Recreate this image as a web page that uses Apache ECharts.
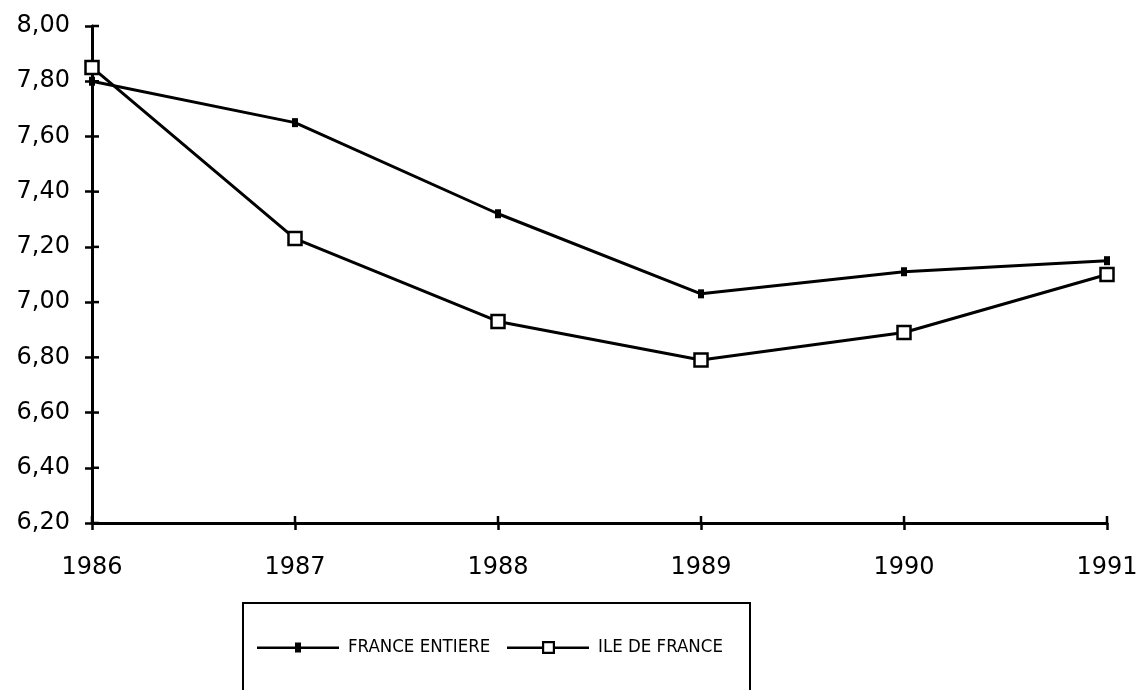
<!DOCTYPE html>
<html>
<head>
<meta charset="utf-8">
<script src="https://cdn.jsdelivr.net/npm/echarts@6/dist/echarts.min.js"></script>
<style>
html,body{margin:0;padding:0;background:#fff;}
#chart{width:1142px;height:690px;}
</style>
</head>
<body>
<div id="chart"></div>
<script>
var years = ['1986', '1987', '1988', '1989', '1990', '1991'];
var franceEntiere = [7.80, 7.65, 7.32, 7.03, 7.11, 7.15];
var ileDeFrance = [7.85, 7.23, 6.93, 6.79, 6.89, 7.10];
var seriesNames = ['FRANCE ENTIERE', 'ILE DE FRANCE'];
var yMin = 6.2, yMax = 8.0, yStep = 0.2;

var chart = echarts.init(document.getElementById('chart'));
var tickFont = 'DejaVu Sans';
var legendFont = '"DejaVu Sans Condensed", "Liberation Sans", Arial, sans-serif';

var iconFrance = 'path://M0,4H82V6.5H0Z M38,0H44V10H38Z';
var iconIle = 'path://M0,5.5H35V8H0Z M48,5.5H82V8H48Z M35,0H48V13H35Z M37.2,2.2V10.8H45.8V2.2Z';

var option = {
  backgroundColor: '#ffffff',
  animation: false,
  grid: { left: 92, right: 35, top: 26, bottom: 167, containLabel: false },
  xAxis: [{
    type: 'category',
    data: years,
    boundaryGap: false,
    axisLine: { lineStyle: { color: '#000', width: 3 } },
    axisTick: { show: true, inside: false, length: 7, lineStyle: { color: '#000', width: 2.5 } },
    axisLabel: { color: '#000', fontFamily: tickFont, fontSize: 24, margin: 33 },
    splitLine: { show: false }
  }],
  yAxis: [{
    type: 'value',
    min: yMin, max: yMax, interval: yStep,
    axisLine: { show: true, lineStyle: { color: '#000', width: 3 } },
    axisTick: { show: true, inside: false, length: 7, lineStyle: { color: '#000', width: 2.5 } },
    axisLabel: {
      color: '#000', fontFamily: tickFont, fontSize: 24, margin: 22,
      formatter: function (v) { return v.toFixed(2).replace('.', ','); }
    },
    splitLine: { show: false }
  }],
  legend: [{
    data: [{ name: seriesNames[0], icon: iconFrance }],
    left: 257, top: 638, padding: 0,
    itemWidth: 82, itemHeight: 10, itemGap: 20,
    itemStyle: { color: '#000', borderWidth: 0 },
    textStyle: { color: '#000', fontFamily: legendFont, fontSize: 18.5, padding: [0, 0, 0, 4] },
    selectedMode: false
  }, {
    data: [{ name: seriesNames[1], icon: iconIle }],
    left: 507, top: 638, padding: 0,
    itemWidth: 82, itemHeight: 13, itemGap: 20,
    itemStyle: { color: '#000', borderWidth: 0 },
    textStyle: { color: '#000', fontFamily: legendFont, fontSize: 18.5, padding: [0, 0, 0, 4] },
    selectedMode: false
  }],
  graphic: [{
    type: 'rect',
    shape: { x: 243, y: 603, width: 507, height: 110 },
    style: { fill: 'none', stroke: '#000', lineWidth: 2 },
    silent: true
  }],
  series: [{
    name: seriesNames[0],
    type: 'line',
    data: franceEntiere,
    symbol: 'rect',
    symbolSize: [6, 9],
    showAllSymbol: true,
    lineStyle: { color: '#000', width: 3 },
    itemStyle: { color: '#000', borderWidth: 0 },
    z: 2
  }, {
    name: seriesNames[1],
    type: 'line',
    data: ileDeFrance,
    symbol: 'rect',
    symbolSize: 13,
    showAllSymbol: true,
    lineStyle: { color: '#000', width: 3 },
    itemStyle: { color: '#fff', borderColor: '#000', borderWidth: 2.5 },
    z: 3
  }]
};
chart.setOption(option);

// inner halves of the crossing ticks, positioned through the chart's own scales
var innerTicks = [];
var baseY = chart.convertToPixel({ yAxisIndex: 0 }, yMin);
var baseX = chart.convertToPixel({ xAxisIndex: 0 }, 0);
years.forEach(function (yr, idx) {
  var px = chart.convertToPixel({ xAxisIndex: 0 }, idx);
  innerTicks.push({
    type: 'line', silent: true, z: 1,
    shape: { x1: px, y1: baseY, x2: px, y2: baseY - 7 },
    style: { stroke: '#000', lineWidth: 2.5 }
  });
});
var nSteps = Math.round((yMax - yMin) / yStep);
for (var i = 0; i <= nSteps; i++) {
  var v = yMin + i * yStep;
  var py = chart.convertToPixel({ yAxisIndex: 0 }, v);
  innerTicks.push({
    type: 'line', silent: true, z: 1,
    shape: { x1: baseX, y1: py, x2: baseX + 7, y2: py },
    style: { stroke: '#000', lineWidth: 2.5 }
  });
}
chart.setOption({ graphic: option.graphic.concat(innerTicks) });
</script>
</body>
</html>
